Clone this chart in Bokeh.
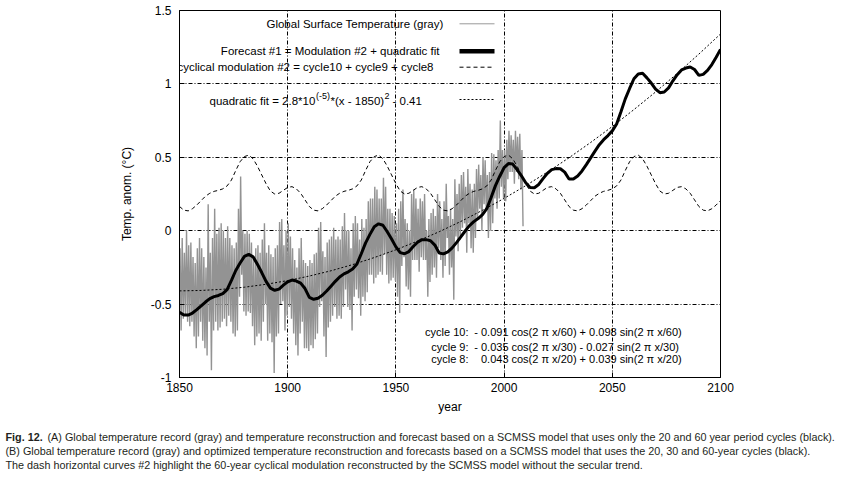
from bokeh.plotting import figure
from bokeh.models import Range1d, Label, Arrow, FixedTicker
from bokeh.embed import file_html
from bokeh.resources import INLINE

# ---------------- data ----------------
gray_years = list(range(1850, 2009))
gray_hi = [-0.12, -0.05, -0.15, 0.00, -0.10, -0.08, -0.18, -0.22, -0.12, -0.05,
           -0.12, -0.18, -0.25, 0.18, -0.15, -0.05, 0.15, -0.02, 0.02, 0.05,
           0.00, -0.05, 0.03, -0.05, -0.10, -0.12, -0.08, 0.15, 0.37, 0.00,
           -0.02, 0.00, -0.02, -0.08, -0.18, -0.12, -0.10, -0.15, -0.06, 0.05,
           -0.15, -0.10, -0.16, -0.18, -0.12, -0.10, 0.06, 0.08, -0.10, 0.00,
           0.05, -0.04, -0.12, -0.20, -0.25, -0.12, -0.05, -0.20, -0.22, -0.24,
           -0.20, -0.22, -0.16, -0.15, 0.02, 0.06, -0.14, -0.18, -0.08, -0.06,
           -0.04, 0.02, -0.06, -0.04, -0.06, 0.03, 0.12, 0.00, 0.00, -0.12,
           0.05, 0.10, 0.05, -0.06, 0.08, 0.02, 0.08, 0.20, 0.22, 0.22,
           0.30, 0.28, 0.22, 0.22, 0.36, 0.30, 0.15, 0.15, 0.12, 0.10,
           0.05, 0.15, 0.20, 0.28, 0.08, 0.05, 0.00, 0.25, 0.28, 0.22,
           0.15, 0.22, 0.20, 0.25, 0.00, 0.08, 0.12, 0.15, 0.10, 0.25,
           0.20, 0.08, 0.20, 0.32, 0.10, 0.15, 0.08, 0.35, 0.25, 0.32,
           0.38, 0.40, 0.30, 0.42, 0.32, 0.28, 0.32, 0.42, 0.45, 0.38,
           0.50, 0.48, 0.38, 0.40, 0.53, 0.52, 0.48, 0.55, 0.75, 0.55,
           0.55, 0.62, 0.68, 0.65, 0.62, 0.68, 0.64, 0.66, 0.55]
gray_lo = [-0.68, -0.60, -0.58, -0.62, -0.65, -0.62, -0.72, -0.80, -0.72, -0.62,
           -0.75, -0.80, -0.85, -0.62, -0.95, -0.68, -0.62, -0.68, -0.66, -0.62,
           -0.60, -0.65, -0.58, -0.62, -0.70, -0.72, -0.68, -0.45, -0.30, -0.55,
           -0.58, -0.55, -0.56, -0.65, -0.78, -0.72, -0.70, -0.75, -0.62, -0.50,
           -0.75, -0.70, -0.76, -0.97, -0.72, -0.70, -0.50, -0.48, -0.68, -0.58,
           -0.52, -0.60, -0.70, -0.78, -0.85, -0.70, -0.62, -0.80, -0.80, -0.82,
           -0.78, -0.80, -0.74, -0.70, -0.52, -0.48, -0.72, -0.86, -0.66, -0.62,
           -0.58, -0.52, -0.60, -0.58, -0.60, -0.52, -0.40, -0.52, -0.54, -0.68,
           -0.45, -0.40, -0.46, -0.58, -0.45, -0.48, -0.42, -0.30, -0.30, -0.36,
           -0.32, -0.30, -0.28, -0.30, -0.16, -0.30, -0.36, -0.34, -0.32, -0.34,
           -0.45, -0.56, -0.24, -0.18, -0.38, -0.40, -0.45, -0.20, -0.20, -0.20,
           -0.28, -0.18, -0.20, -0.20, -0.45, -0.35, -0.30, -0.25, -0.32, -0.12,
           -0.20, -0.32, -0.24, -0.05, -0.30, -0.25, -0.47, -0.04, -0.14, -0.06,
           0.02, 0.05, -0.15, 0.05, -0.12, -0.15, -0.05, 0.08, 0.15, 0.00,
           0.18, 0.15, -0.05, 0.00, 0.05, 0.22, 0.15, 0.22, 0.30, 0.22,
           0.20, 0.35, 0.40, 0.40, 0.32, 0.40, 0.35, 0.28, 0.03]

model_years = list(range(1850, 2101, 2))
forecast = [-0.555, -0.575, -0.575, -0.561, -0.538, -0.512, -0.486, -0.463, -0.449, -0.441,
            -0.429, -0.401, -0.339, -0.271, -0.220, -0.175, -0.161, -0.178, -0.229, -0.285,
            -0.345, -0.391, -0.406, -0.398, -0.371, -0.348, -0.336, -0.343, -0.357, -0.394,
            -0.454, -0.467, -0.460, -0.440, -0.411, -0.378, -0.345, -0.315, -0.294, -0.280,
            -0.261, -0.227, -0.157, -0.083, -0.025, 0.027, 0.047, 0.037, -0.007, -0.056,
            -0.110, -0.149, -0.157, -0.142, -0.108, -0.079, -0.061, -0.061, -0.068, -0.098,
            -0.152, -0.158, -0.144, -0.117, -0.081, -0.042, -0.002, 0.035, 0.062, 0.083,
            0.109, 0.150, 0.226, 0.307, 0.371, 0.430, 0.457, 0.454, 0.416, 0.374,
            0.327, 0.295, 0.293, 0.315, 0.355, 0.391, 0.416, 0.423, 0.422, 0.399,
            0.352, 0.352, 0.373, 0.407, 0.450, 0.496, 0.542, 0.586, 0.620, 0.648,
            0.680, 0.727, 0.810, 0.898, 0.969, 1.035, 1.068, 1.072, 1.041, 1.006,
            0.965, 0.940, 0.945, 0.973, 1.021, 1.063, 1.095, 1.108, 1.115, 1.098,
            1.058, 1.065, 1.092, 1.132, 1.182, 1.235]
modulation = [0.165, 0.14, 0.135, 0.15, 0.175, 0.205, 0.235, 0.255, 0.268, 0.275,
              0.285, 0.305, 0.345, 0.41, 0.47, 0.505, 0.515, 0.49, 0.44, 0.38,
              0.32, 0.27, 0.25, 0.255, 0.275, 0.295, 0.30, 0.285, 0.255, 0.21,
              0.165, 0.14, 0.135, 0.15, 0.175, 0.205, 0.235, 0.255, 0.268, 0.275,
              0.285, 0.305, 0.345, 0.41, 0.47, 0.505, 0.515, 0.49, 0.44, 0.38,
              0.32, 0.27, 0.25, 0.255, 0.275, 0.295, 0.30, 0.285, 0.255, 0.21,
              0.165, 0.14, 0.135, 0.15, 0.175, 0.205, 0.235, 0.255, 0.268, 0.275,
              0.285, 0.305, 0.345, 0.41, 0.47, 0.505, 0.515, 0.49, 0.44, 0.38,
              0.32, 0.27, 0.25, 0.255, 0.275, 0.295, 0.30, 0.285, 0.255, 0.21,
              0.165, 0.14, 0.135, 0.15, 0.175, 0.205, 0.235, 0.255, 0.268, 0.275,
              0.285, 0.305, 0.345, 0.41, 0.47, 0.505, 0.515, 0.49, 0.44, 0.38,
              0.32, 0.27, 0.25, 0.255, 0.275, 0.295, 0.30, 0.285, 0.255, 0.21,
              0.165, 0.14, 0.135, 0.15, 0.175, 0.205]

quad_years = list(range(1850, 2101, 10))
quad_fit = [-0.410, -0.407, -0.399, -0.385, -0.365, -0.340, -0.309, -0.273, -0.231,
            -0.183, -0.130, -0.071, -0.007, 0.063, 0.139, 0.220, 0.307, 0.399,
            0.497, 0.601, 0.710, 0.825, 0.945, 1.071, 1.203, 1.340]

x_ticks = [1850, 1900, 1950, 2000, 2050, 2100]
y_ticks = [-1, -0.5, 0, 0.5, 1, 1.5]
y_tick_labels = ["-1", "-0.5", "0", "0.5", "1", "1.5"]

legend_texts = ["Global Surface Temperature (gray)",
                "Forecast #1 = Modulation #2 + quadratic fit",
                "cyclical modulation #2 = cycle10 + cycle9 + cycle8"]
cycle_names = ["cycle 10:", "cycle 9:", "cycle 8:"]
cycle_coefs = ["- 0.091", "- 0.035", "0.043"]
cycle_terms = ["cos(2 \u03c0 x/60) + 0.098 sin(2 \u03c0 x/60)",
               "cos(2 \u03c0 x/30) - 0.027 sin(2 \u03c0 x/30)",
               "cos(2 \u03c0 x/20) + 0.039 sin(2 \u03c0 x/20)"]
caption_bold = "Fig. 12."
caption_lines = [
    "(A) Global temperature record (gray) and temperature reconstruction and forecast based on a SCMSS model that uses only the 20 and 60 year period cycles (black).",
    "(B) Global temperature record (gray) and optimized temperature reconstruction and forecasts based on a SCMSS model that uses the 20, 30 and 60-year cycles (black).",
    "The dash horizontal curves #2 highlight the 60-year cyclical modulation reconstructed by the SCMSS model without the secular trend.",
]

FONT = "Liberation Sans"
FS = "11.5px"

# gray zigzag from annual high/low values
gx, gy = [], []
for yr, h, l in zip(gray_years, gray_hi, gray_lo):
    gx += [yr + 0.25, yr + 0.75]
    gy += [h, l]

p = figure(width=853, height=420, x_range=Range1d(1850, 2100), y_range=Range1d(-1, 1.5),
           output_backend="svg", toolbar_location=None,
           min_border_left=179, min_border_right=133, min_border_top=10, min_border_bottom=43)
p.background_fill_color = "white"
p.border_fill_color = "white"
p.outline_line_color = "black"
p.outline_line_width = 1

p.xaxis.ticker = FixedTicker(ticks=x_ticks)
p.yaxis.ticker = FixedTicker(ticks=y_ticks)
p.yaxis.major_label_overrides = {t: s for t, s in zip(y_ticks, y_tick_labels)}
for ax in (p.xaxis[0], p.yaxis[0]):
    ax.axis_line_color = "black"
    ax.major_tick_in = 5
    ax.major_tick_out = 0
    ax.minor_tick_line_color = None
    ax.major_label_text_font = FONT
    ax.major_label_text_font_size = "12px"
    ax.major_label_text_color = "black"
    ax.axis_label_text_font = FONT
    ax.axis_label_text_font_size = "12px"
    ax.axis_label_text_font_style = "normal"
    ax.axis_label_text_color = "black"
p.xaxis.axis_label = "year"
p.yaxis.axis_label = "Temp. anom. (\u00b0C)"
p.xaxis.major_label_standoff = 5
p.xaxis.axis_label_standoff = 5
p.yaxis.major_label_standoff = 8
p.yaxis.axis_label_standoff = 14

for g in (p.xgrid[0], p.ygrid[0]):
    g.grid_line_color = "black"
    g.grid_line_dash = "4 2 1 2"
    g.grid_line_width = 1
    g.grid_line_alpha = 1

p.line(gx, gy, line_color="#939393", line_width=1.4)
p.line(quad_years, quad_fit, line_color="black", line_width=1, line_dash="2 2")
p.line(model_years, modulation, line_color="black", line_width=1, line_dash="4 3")
p.line(model_years, forecast, line_color="black", line_width=3)

# legend (text at left, sample at right)
def px2x(px):
    return 1850 + (px - 179) / 2.164

def py2y(py):
    return 1.5 - (py - 10) / 146.8

rows_y = [23.3, 50.7, 66.7]
rows_right = [443, 439, 433]
for t, ry, rr in zip(legend_texts, rows_y, rows_right):
    p.add_layout(Label(x=px2x(rr), y=py2y(ry), text=t, text_align="right", text_baseline="middle",
                       text_font=FONT, text_font_size=FS, text_color="black"))
qy = py2y(100)
qsy = py2y(95)
pieces = [("quadratic fit = 2.8*10", 209, qy, FS),
          ("(-5)", 315.5, qsy, "9px"),
          ("*(x - 1850)", 330, qy, FS),
          ("2", 384, qsy, "9px"),
          ("- 0.41", 392, qy, FS)]
for t, px, yy, fs in pieces:
    p.add_layout(Label(x=px2x(px), y=yy, text=t, text_align="left", text_baseline="middle",
                       text_font=FONT, text_font_size=fs, text_color="black"))

samples = [(23.3, "#999999", 1, "solid"), (50.7, "black", 4.5, "solid"),
           (66.7, "black", 1, "4 3"), (99.0, "black", 1, "2 2")]
for sy, c, w, d in samples:
    p.add_layout(Arrow(end=None, x_start=px2x(459), x_end=px2x(494), y_start=py2y(sy), y_end=py2y(sy),
                       line_color=c, line_width=w, line_dash=d))

cyc_y = [331.7, 346.7, 358.8]
for n, c, t, yy in zip(cycle_names, cycle_coefs, cycle_terms, cyc_y):
    p.add_layout(Label(x=px2x(468), y=py2y(yy), text=n, text_align="right", text_baseline="middle",
                       text_font=FONT, text_font_size="11px", text_color="black"))
    p.add_layout(Label(x=px2x(508), y=py2y(yy), text=c, text_align="right", text_baseline="middle",
                       text_font=FONT, text_font_size="11px", text_color="black"))
    p.add_layout(Label(x=px2x(511), y=py2y(yy), text=t, text_align="left", text_baseline="middle",
                       text_font=FONT, text_font_size="11px", text_color="black"))

# caption figure (separate root so its frame spans the full width)
p2 = figure(width=853, height=57, x_range=Range1d(0, 853), y_range=Range1d(57, 0),
            output_backend="svg", toolbar_location=None, x_axis_type=None, y_axis_type=None,
            min_border=0)
p2.grid.visible = False
p2.outline_line_color = None
p2.background_fill_color = "white"
p2.border_fill_color = "white"
CFONT = "Liberation Sans"
CFS = "10.8px"
p2.add_layout(Label(x=5, y=16, text=caption_bold, text_font=CFONT, text_font_size=CFS,
                    text_font_style="bold", text_baseline="middle", text_color="#231f20"))
cap_pos = [(47, 16), (5, 30), (5, 44)]
for t, (cx, cy) in zip(caption_lines, cap_pos):
    p2.add_layout(Label(x=cx, y=cy, text=t, text_font=CFONT, text_font_size=CFS,
                        text_baseline="middle", text_color="#231f20"))

open("out.html", "w").write(file_html([p, p2], INLINE))
